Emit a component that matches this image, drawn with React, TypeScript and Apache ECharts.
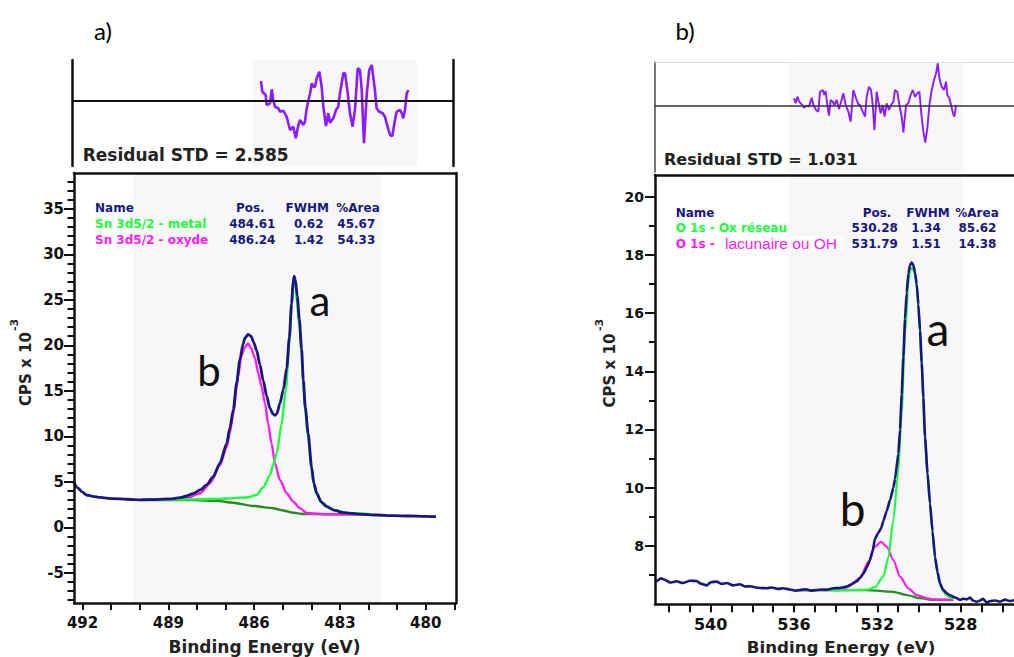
import React, { useEffect, useRef } from "react";
import * as echarts from "echarts";

const FONT = "DejaVu Sans";
const INK = "#111111";
const NAVY = "#17177f";
const GREEN = "#1cff3c";
const MAGENTA = "#ff1cf0";
const BGLINE = "#2a8a22";
const RESID = "#8a1cff";
const SHADE = "#f7f7f7";

// ---------------- Panel a) Sn 3d5/2 ----------------
const fitRangeA = [490.25, 481.57];
const xTicksA = [479, 480, 481, 482, 483, 484, 485, 486, 487, 488, 489, 490, 491, 492];
const xLabelsA = [480, 483, 486, 489, 492];
const yMajorA = [-5, 0, 5, 10, 15, 20, 25, 30, 35];
const yMinorA = [-8, -7, -6, -4, -3, -2, -1, 1, 2, 3, 4, 6, 7, 8, 9, 11, 12, 13, 14, 16, 17, 18, 19, 21, 22, 23, 24, 26, 27, 28, 29, 31, 32, 33, 34, 36, 37, 38];

const snRawE = [492.3, 492.16, 492.02, 491.86, 491.64, 491.39, 490.94, 490.46, 489.93, 489.43, 488.94, 488.59, 488.36, 488.14, 487.89, 487.66, 487.43, 487.2, 486.96, 486.85, 486.73, 486.61, 486.5, 486.39, 486.32, 486.21, 486.11, 486.01, 485.91, 485.8, 485.68, 485.56, 485.45, 485.34, 485.27, 485.2, 485.1, 484.98, 484.86, 484.77, 484.69, 484.64, 484.6, 484.56, 484.49, 484.42, 484.34, 484.28, 484.21, 484.11, 483.99, 483.91, 483.81, 483.66, 483.46, 483.17, 482.88, 482.3, 481.72, 481.15, 480.55, 480.03, 479.64];
const snRawCps = [4.9, 4.3, 3.9, 3.55, 3.4, 3.28, 3.15, 3.08, 3.02, 3.05, 3.12, 3.25, 3.44, 3.7, 4.1, 4.65, 5.56, 7.03, 9.2, 10.9, 12.9, 15.9, 18.4, 20.1, 20.8, 21.2, 21.0, 20.3, 19.4, 17.9, 16.1, 14.4, 13.1, 12.45, 12.3, 12.5, 13.6, 15.1, 17.5, 20.8, 24.6, 26.8, 27.6, 27.2, 25.4, 22.9, 19.6, 16.2, 13.2, 10.3, 6.6, 4.8, 3.74, 2.8, 2.26, 1.85, 1.6, 1.45, 1.35, 1.28, 1.24, 1.2, 1.17];

const snBgE = [489.93, 488.94, 488.13, 487.31, 486.73, 486.03, 485.33, 484.99, 484.63, 484.28, 483.46, 481.95];
const snBgCps = [3.0, 3.0, 3.0, 2.9, 2.7, 2.34, 2.09, 1.85, 1.6, 1.46, 1.43, 1.43];

const snOxE = [489.93, 488.94, 488.36, 487.89, 487.54, 487.2, 486.96, 486.85, 486.73, 486.61, 486.56, 486.44, 486.32, 486.21, 486.11, 485.97, 485.86, 485.74, 485.62, 485.51, 485.39, 485.27, 485.1, 484.86, 484.63, 484.4, 484.16, 483.46, 481.95];
const snOxCps = [3.02, 3.05, 3.19, 3.74, 4.84, 6.8, 8.8, 10.4, 12.4, 15.4, 16.6, 18.9, 19.8, 20.2, 19.7, 18.6, 17.0, 15.45, 13.6, 11.4, 9.2, 7.0, 5.2, 3.74, 2.8, 2.1, 1.57, 1.43, 1.43];

const snMetE = [489.93, 488.94, 487.89, 487.2, 486.96, 486.21, 485.91, 485.68, 485.45, 485.33, 485.22, 485.04, 484.89, 484.77, 484.69, 484.63, 484.6, 484.55, 484.5, 484.42, 484.34, 484.28, 484.21, 484.11, 483.99, 483.94, 483.81, 483.59, 483.24, 482.65, 481.95];
const snMetCps = [3.02, 3.04, 3.08, 3.12, 3.16, 3.3, 3.55, 4.4, 5.7, 6.9, 8.0, 11.3, 15.2, 20.0, 24.4, 26.6, 27.0, 26.4, 24.6, 22.2, 19.0, 15.4, 12.6, 9.8, 6.2, 5.2, 3.6, 2.6, 1.9, 1.54, 1.43];

const resAxisA = [479.67, 499.79];
const resAE = [489.83, 489.76, 489.58, 489.53, 489.35, 489.26, 489.18, 489.09, 488.91, 488.82, 488.65, 488.47, 488.29, 488.12, 487.99, 487.85, 487.76, 487.59, 487.5, 487.41, 487.23, 487.14, 487.06, 486.97, 486.88, 486.74, 486.62, 486.53, 486.39, 486.27, 486.18, 486.0, 485.86, 485.74, 485.65, 485.47, 485.38, 485.26, 485.12, 484.98, 484.85, 484.71, 484.59, 484.5, 484.38, 484.23, 484.1, 483.97, 483.8, 483.71, 483.57, 483.39, 483.27, 483.18, 483.0, 482.88, 482.74, 482.65, 482.47, 482.38, 482.3, 482.21, 482.12, 482.03];
const resAV = [2.0, 0.93, 0.6, -0.4, -0.23, 1.17, 0.1, -0.57, -0.73, -1.07, -0.97, -1.57, -2.9, -2.57, -3.73, -2.4, -1.9, -2.4, -2.07, -0.73, 0.77, 1.77, 1.43, 1.43, 2.27, 2.93, 1.43, -0.57, -2.5, -1.23, -2.17, -1.73, -0.9, -0.57, 0.77, 2.77, 2.77, 1.1, -1.23, -2.57, -0.73, 3.27, 3.1, 1.1, -4.23, 0.77, 3.1, 3.6, 1.1, -0.73, -1.07, -1.23, -1.57, -2.23, -3.4, -3.5, -1.9, -1.07, -0.9, -1.23, -1.73, -0.9, 0.77, 1.1];

const legendHeadA = ["Name", "Pos.", "FWHM", "%Area"];
const compNamesA = ["Sn 3d5/2 - metal", "Sn 3d5/2 - oxyde"];
const compPosA = ["484.61", "486.24"];
const compFwhmA = ["0.62", "1.42"];
const compAreaA = ["45.67", "54.33"];

// ---------------- Panel b) O 1s ----------------
const fitRangeB = [536.23, 527.9];
const xRangeB = [525.44, 542.67];
const xTicksB = [526, 527, 528, 529, 530, 531, 532, 533, 534, 535, 536, 537, 538, 539, 540, 541, 542];
const xLabelsB = [528, 532, 536, 540];
const yMajorB = [8, 10, 12, 14, 16, 18, 20];
const yMinorB = [7, 9, 11, 13, 15, 17, 19];

const oRawE = [542.59, 542.39, 542.19, 541.95, 541.63, 541.33, 540.99, 540.67, 540.47, 540.19, 539.99, 539.71, 539.46, 539.22, 538.92, 538.59, 538.35, 538.11, 537.83, 537.59, 537.31, 537.06, 536.77, 536.51, 536.19, 535.95, 535.71, 535.42, 535.18, 534.91, 534.66, 534.42, 534.11, 533.79, 533.47, 533.23, 532.99, 532.83, 532.67, 532.51, 532.35, 532.22, 532.11, 531.95, 531.82, 531.71, 531.55, 531.39, 531.23, 531.15, 530.99, 530.91, 530.83, 530.75, 530.67, 530.59, 530.51, 530.43, 530.35, 530.27, 530.19, 530.11, 530.03, 529.95, 529.87, 529.79, 529.71, 529.59, 529.47, 529.35, 529.23, 529.11, 528.99, 528.85, 528.67, 528.51, 528.35, 528.19, 528.03, 527.89, 527.71, 527.55, 527.41, 527.23, 527.07, 526.93, 526.75, 526.59, 526.35, 526.11, 525.87, 525.63, 525.44];
const oRawCps = [6.77, 6.88, 6.83, 6.74, 6.78, 6.72, 6.8, 6.79, 6.7, 6.64, 6.75, 6.77, 6.69, 6.72, 6.64, 6.68, 6.6, 6.61, 6.57, 6.55, 6.54, 6.57, 6.52, 6.54, 6.5, 6.46, 6.48, 6.51, 6.46, 6.48, 6.5, 6.49, 6.54, 6.55, 6.6, 6.68, 6.78, 6.9, 7.05, 7.25, 7.51, 7.85, 8.25, 8.45, 8.6, 8.85, 9.2, 9.57, 10.0, 10.3, 11.17, 12.0, 13.2, 14.5, 15.8, 16.7, 17.35, 17.65, 17.74, 17.65, 17.4, 17.0, 16.3, 15.4, 14.3, 13.1, 11.74, 10.5, 9.45, 8.5, 7.62, 7.1, 6.71, 6.5, 6.37, 6.3, 6.25, 6.2, 6.14, 6.18, 6.16, 6.22, 6.12, 6.08, 6.12, 6.18, 6.05, 6.1, 6.12, 6.08, 6.15, 6.1, 6.13];

const oBgE = [535.8, 532.51, 531.23, 530.59, 529.95, 529.31, 528.35];
const oBgCps = [6.48, 6.48, 6.42, 6.31, 6.2, 6.14, 6.14];

const oOhE = [535.8, 533.79, 533.47, 532.83, 532.43, 532.11, 531.82, 531.55, 531.23, 530.91, 530.51, 530.11, 529.63, 529.31, 528.35];
const oOhCps = [6.48, 6.48, 6.57, 6.88, 7.45, 7.97, 8.14, 7.97, 7.51, 6.94, 6.54, 6.31, 6.2, 6.16, 6.14];

const oLatE = [535.8, 533.5, 532.51, 532.11, 531.71, 531.47, 531.23, 530.99, 530.83, 530.67, 530.51, 530.43, 530.35, 530.27, 530.19, 530.11, 530.03, 529.95, 529.87, 529.71, 529.59, 529.47, 529.35, 529.23, 529.11, 528.99, 528.85, 528.67, 528.51, 528.35];
const oLatCps = [6.48, 6.48, 6.49, 6.58, 6.95, 7.6, 8.9, 10.6, 12.6, 15.3, 17.05, 17.45, 17.55, 17.5, 17.3, 16.9, 16.2, 15.3, 14.2, 11.7, 10.45, 9.4, 8.45, 7.58, 7.05, 6.66, 6.45, 6.3, 6.22, 6.18];

const resBE = [536.0, 535.92, 535.84, 535.75, 535.63, 535.52, 535.39, 535.28, 535.15, 535.07, 534.94, 534.83, 534.75, 534.62, 534.54, 534.48, 534.4, 534.32, 534.24, 534.14, 534.06, 533.95, 533.84, 533.74, 533.63, 533.52, 533.39, 533.28, 533.15, 533.02, 532.91, 532.83, 532.7, 532.59, 532.51, 532.4, 532.3, 532.22, 532.14, 532.03, 531.95, 531.84, 531.74, 531.65, 531.55, 531.44, 531.34, 531.23, 531.15, 531.04, 530.94, 530.83, 530.75, 530.62, 530.51, 530.4, 530.3, 530.19, 530.08, 529.98, 529.89, 529.79, 529.7, 529.6, 529.5, 529.39, 529.28, 529.18, 529.1, 529.02, 528.91, 528.8, 528.7, 528.64, 528.54, 528.46, 528.37, 528.3, 528.22];
const resBV = [0.77, 0.27, 0.93, 0.43, 0.17, -0.17, 0.03, -0.07, 0.83, 0.1, -0.4, -0.57, 1.43, 1.6, 1.1, 1.5, 0.1, -0.97, 0.6, 0.43, 0.1, 0.6, -0.3, 0.43, 1.27, 0.1, -0.57, -1.57, 1.6, 0.77, 0.17, 0.1, -0.57, -1.07, 0.93, 1.93, 1.6, 0.1, -2.4, 1.43, 0.43, -0.73, 0.1, -1.07, 0.27, -0.4, 0.1, 0.43, 1.6, 1.43, 0.1, -1.07, -2.63, 0.1, 0.27, 1.1, 1.6, 0.93, 1.27, 1.43, -0.73, -2.57, -3.67, -2.23, 0.1, 1.6, 2.6, 3.27, 4.27, 2.77, 1.93, 1.6, 2.43, 1.1, 0.77, 0.1, -0.73, -1.07, 0.1];

const legendHeadB = ["Name", "Pos.", "FWHM", "%Area"];
const compNamesB = ["O 1s - Ox réseau", "O 1s - "];
const compNameB2Tail = "lacunaire ou OH";
const compPosB = ["530.28", "531.79"];
const compFwhmB = ["1.34", "1.51"];
const compAreaB = ["85.62", "14.38"];

const pairs = (xs: number[], ys: number[]) => xs.map((x, i) => [x, ys[i]]);

const boldText = (x: number, y: number, text: string, fill: string, size: number, align = "left") => ({
  type: "text",
  x,
  y,
  z: 50,
  style: { text, fill, fontFamily: FONT, fontWeight: "bold", fontSize: size, align, verticalAlign: "middle" },
});

const lineSeries = (xi: number, yi: number, data: number[][], color: string, width: number, extra: any = {}) => ({
  type: "line",
  xAxisIndex: xi,
  yAxisIndex: yi,
  data,
  showSymbol: false,
  symbol: "none",
  smooth: 0.25,
  smoothMonotone: "x",
  lineStyle: { color, width },
  emphasis: { disabled: true },
  silent: true,
  z: 3,
  ...extra,
});

const shade = (range: number[]) => ({
  silent: true,
  itemStyle: { color: SHADE },
  data: [[{ xAxis: range[0] }, { xAxis: range[1] }]],
});

const hiddenX = (gridIndex: number, range: number[], extra: any = {}) => ({
  type: "value",
  gridIndex,
  min: range[0],
  max: range[1],
  inverse: true,
  z: 10,
  splitLine: { show: false },
  axisTick: { show: false },
  axisLabel: { show: false },
  ...extra,
});

const labelStyle = (size: number, margin: number, values: number[]) => ({
  show: true,
  customValues: values,
  fontFamily: FONT,
  fontWeight: "bold",
  fontSize: size,
  color: INK,
  margin,
});

export default function App() {
  const ref = useRef<HTMLDivElement>(null);

  useEffect(() => {
    const chart = echarts.init(ref.current!, null, { renderer: "svg" });

    const frame = { show: true, onZero: false, lineStyle: { color: INK, width: 2.5 } };

    const legendA: any[] = [
      boldText(95, 208, legendHeadA[0], NAVY, 12),
      boldText(250.3, 208, legendHeadA[1], NAVY, 12, "center"),
      boldText(307.3, 208, legendHeadA[2], NAVY, 12, "center"),
      boldText(358, 208, legendHeadA[3], NAVY, 12, "center"),
    ];
    [0, 1].forEach((i) => {
      const y = 223.5 + i * 16;
      legendA.push(boldText(95, y, compNamesA[i], i === 0 ? GREEN : MAGENTA, 12));
      legendA.push(boldText(252.3, y, compPosA[i], NAVY, 12, "center"));
      legendA.push(boldText(308.7, y, compFwhmA[i], NAVY, 12, "center"));
      legendA.push(boldText(356.3, y, compAreaA[i], NAVY, 12, "center"));
    });

    const legendB: any[] = [
      boldText(675.7, 212.5, legendHeadB[0], NAVY, 12),
      boldText(877, 212.5, legendHeadB[1], NAVY, 12, "center"),
      boldText(928, 212.5, legendHeadB[2], NAVY, 12, "center"),
      boldText(977, 212.5, legendHeadB[3], NAVY, 12, "center"),
    ];
    [0, 1].forEach((i) => {
      const y = 228 + i * 15.5;
      legendB.push(boldText(675.7, y, compNamesB[i], i === 0 ? GREEN : MAGENTA, 12));
      legendB.push(boldText(874.7, y, compPosB[i], NAVY, 12, "center"));
      legendB.push(boldText(926, y, compFwhmB[i], NAVY, 12, "center"));
      legendB.push(boldText(977.5, y, compAreaB[i], NAVY, 12, "center"));
    });
    legendB.push({ type: "rect", z: 49, shape: { x: 724, y: 236, width: 119, height: 14 }, style: { fill: "#ffffff" } });
    legendB.push({
      type: "text",
      x: 725,
      y: 243.5,
      z: 50,
      style: { text: compNameB2Tail, fill: MAGENTA, fontFamily: "Liberation Sans", fontSize: 15.5, align: "left", verticalAlign: "middle" },
    });

    const option: any = {
      animation: false,
      backgroundColor: "#ffffff",
      grid: [
        { left: 72.7, top: 60, width: 380.3, height: 106, outerBoundsMode: "none" },
        { left: 74, top: 173, width: 382, height: 430, outerBoundsMode: "none" },
        { left: 655, top: 62, width: 359, height: 110, outerBoundsMode: "none" },
        { left: 655, top: 175, width: 359, height: 429.3, outerBoundsMode: "none" },
      ],
      xAxis: [
        hiddenX(0, resAxisA, { position: "bottom", axisLine: { show: true, onZero: true, lineStyle: { color: INK, width: 2.2 } } }),
        hiddenX(1, [478.94, 492.3], {
          position: "bottom",
          axisLine: frame,
          axisTick: { show: true, customValues: xTicksA, length: 7, lineStyle: { color: INK, width: 2 } },
          axisLabel: labelStyle(15, 12, xLabelsA),
        }),
        hiddenX(1, [478.94, 492.3], { position: "top", axisLine: frame }),
        hiddenX(2, xRangeB, { position: "bottom", axisLine: { show: true, onZero: true, lineStyle: { color: "#333", width: 1.6 } } }),
        hiddenX(3, xRangeB, {
          position: "bottom",
          axisLine: frame,
          axisTick: { show: true, customValues: xTicksB, length: 8, lineStyle: { color: INK, width: 2 } },
          axisLabel: labelStyle(16, 12, xLabelsB),
        }),
        hiddenX(3, xRangeB, { position: "top", axisLine: frame }),
        hiddenX(2, xRangeB, { position: "top", axisLine: { show: true, onZero: false, lineStyle: { color: "#dddddd", width: 1 } } }),
      ],
      yAxis: [
        { type: "value", gridIndex: 0, min: -6.5, max: 4.1, position: "left", z: 10, axisLine: frame, axisTick: { show: false }, axisLabel: { show: false }, splitLine: { show: false } },
        { type: "value", gridIndex: 0, min: -6.5, max: 4.1, position: "right", z: 10, axisLine: frame, axisTick: { show: false }, axisLabel: { show: false }, splitLine: { show: false } },
        {
          type: "value", gridIndex: 1, min: -8.32, max: 38.93, position: "left", z: 10, axisLine: frame, splitLine: { show: false },
          axisTick: { show: true, customValues: yMajorA, length: 10, lineStyle: { color: INK, width: 2 } },
          axisLabel: labelStyle(15, 10, yMajorA),
        },
        {
          type: "value", gridIndex: 1, min: -8.32, max: 38.93, position: "left", offset: 0, z: 10, axisLine: { show: false }, splitLine: { show: false },
          axisTick: { show: true, customValues: yMinorA, length: 6.5, lineStyle: { color: INK, width: 2 } },
          axisLabel: { show: false },
        },
        { type: "value", gridIndex: 1, min: -8.32, max: 38.93, position: "right", z: 10, axisLine: frame, axisTick: { show: false }, axisLabel: { show: false }, splitLine: { show: false } },
        { type: "value", gridIndex: 2, min: -6.6, max: 4.4, position: "left", z: 10, axisLine: { show: true, onZero: false, lineStyle: { color: "#555", width: 1.6 } }, axisTick: { show: false }, axisLabel: { show: false }, splitLine: { show: false } },
        {
          type: "value", gridIndex: 3, min: 5.99, max: 20.75, position: "left", z: 10, axisLine: frame, splitLine: { show: false },
          axisTick: { show: true, customValues: yMajorB, length: 10, lineStyle: { color: INK, width: 2 } },
          axisLabel: labelStyle(14, 11, yMajorB),
        },
        {
          type: "value", gridIndex: 3, min: 5.99, max: 20.75, position: "left", offset: 0, z: 10, axisLine: { show: false }, splitLine: { show: false },
          axisTick: { show: true, customValues: yMinorB, length: 6, lineStyle: { color: INK, width: 2 } },
          axisLabel: { show: false },
        },
      ],
      series: [
        lineSeries(0, 0, pairs(resAE, resAV), RESID, 2.6, { smooth: false, markArea: shade(fitRangeA) }),
        lineSeries(1, 2, pairs(snBgE, snBgCps), BGLINE, 2.4, { markArea: shade(fitRangeA) }),
        lineSeries(1, 2, pairs(snOxE, snOxCps), MAGENTA, 2.4),
        lineSeries(1, 2, pairs(snMetE, snMetCps), GREEN, 2.4),
        lineSeries(1, 2, pairs(snRawE, snRawCps), NAVY, 2.8),
        lineSeries(3, 5, pairs(resBE, resBV), RESID, 1.9, { smooth: false, markArea: shade(fitRangeB) }),
        lineSeries(4, 6, pairs(oBgE, oBgCps), BGLINE, 2.2, { markArea: shade(fitRangeB) }),
        lineSeries(4, 6, pairs(oOhE, oOhCps), MAGENTA, 2.2),
        lineSeries(4, 6, pairs(oLatE, oLatCps), GREEN, 2.2),
        lineSeries(4, 6, pairs(oRawE, oRawCps), NAVY, 2.6, { smooth: 0.15 }),
      ],
      graphic: [
        { type: "text", x: 103, y: 30, z: 50, style: { text: "a)", fill: "#000", fontFamily: "Lato", fontSize: 24, align: "center", verticalAlign: "middle" } },
        { type: "text", x: 685, y: 30, z: 50, style: { text: "b)", fill: "#000", fontFamily: "Lato", fontSize: 24, align: "center", verticalAlign: "middle" } },
        boldText(82.7, 154.5, "Residual STD = 2.585", "#222", 17),
        boldText(664, 159.5, "Residual STD = 1.031", "#222", 16),
        boldText(264.5, 647, "Binding Energy (eV)", "#222", 17, "center"),
        boldText(841, 647, "Binding Energy (eV)", "#222", 16.7, "center"),
        { ...boldText(25.5, 369, "CPS x 10", "#222", 15, "center"), rotation: Math.PI / 2 },
        { ...boldText(14, 325, "-3", "#222", 11, "center"), rotation: Math.PI / 2 },
        { ...boldText(610, 370.5, "CPS x 10", "#222", 15, "center"), rotation: Math.PI / 2 },
        { ...boldText(599, 325, "-3", "#222", 11, "center"), rotation: Math.PI / 2 },
        ...legendA,
        ...legendB,
        { type: "text", x: 320, y: 300, z: 50, style: { text: "a", fill: "#111", fontFamily: "Lato", fontSize: 42, align: "center", verticalAlign: "middle" } },
        { type: "text", x: 209, y: 370, z: 50, style: { text: "b", fill: "#111", fontFamily: "Lato", fontSize: 42, align: "center", verticalAlign: "middle" } },
        { type: "text", x: 938, y: 328, z: 50, style: { text: "a", fill: "#111", fontFamily: "Lato", fontSize: 46, align: "center", verticalAlign: "middle" } },
        { type: "text", x: 852.5, y: 508, z: 50, style: { text: "b", fill: "#111", fontFamily: "Lato", fontSize: 46, align: "center", verticalAlign: "middle" } },
      ],
    };

    chart.setOption(option);
    return () => chart.dispose();
  }, []);

  return (
    <div
      ref={ref}
      style={{ position: "fixed", left: 0, top: 0, width: 1014, height: 657, background: "#ffffff" }}
    />
  );
}
